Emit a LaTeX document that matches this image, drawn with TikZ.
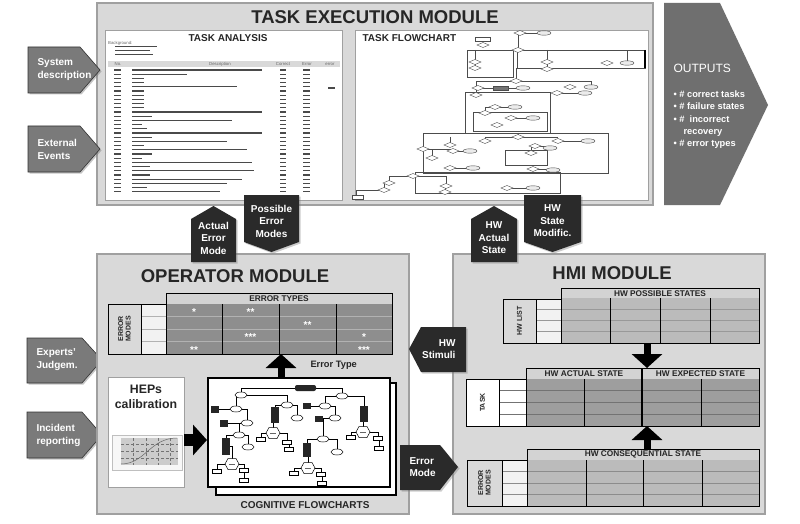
\documentclass[tikz,border=0pt]{standalone}
\usepackage{fontspec}
\setmainfont{Liberation Sans}
\usetikzlibrary{arrows.meta,shadows}
\definecolor{ModFill}{HTML}{D9D9D9}
\definecolor{ModLine}{HTML}{A0A0A0}
\definecolor{InArrow}{HTML}{7A7A7A}
\definecolor{TagDark}{HTML}{2A2A2A}
\definecolor{OutFill}{HTML}{6F6F6F}
\definecolor{CellDark}{HTML}{8E8E8E}
\definecolor{CellMid}{HTML}{9E9E9E}
\definecolor{CellLight}{HTML}{BBBBBB}
\definecolor{HeadFill}{HTML}{D3D3D3}
\definecolor{InkGray}{HTML}{4A4A4A}

\begin{document}
\begin{tikzpicture}[x=1pt,y=-1pt,
    module/.style={fill=ModFill,draw=ModLine,line width=1.2pt},
    panel/.style={fill=white,draw=ModLine,line width=0.8pt},
    modtitle/.style={font=\fontsize{18.5}{20}\selectfont\bfseries,text=black!85},
    subtitle/.style={font=\fontsize{10}{12}\selectfont\bfseries,text=black!85},
    inarrow/.style={fill=InArrow,draw=black!80,line width=0.6pt,
      drop shadow={shadow xshift=1.5pt,shadow yshift=-1.5pt,opacity=.45}},
    intext/.style={text=white,font=\fontsize{10}{13}\selectfont\bfseries,align=left,anchor=west},
    tag/.style={fill=TagDark,drop shadow={shadow xshift=1.5pt,shadow yshift=-1.5pt,opacity=.4}},
    tagtext/.style={text=white,font=\fontsize{10}{12.5}\selectfont\bfseries,align=center},
    fat/.style={line width=7pt,-{Triangle[length=14pt,width=30pt]}},
    headtext/.style={font=\fontsize{8.3}{9}\selectfont\bfseries,text=black!85,inner sep=0pt},
    vlabel/.style={rotate=90,font=\fontsize{7}{7.5}\selectfont\bfseries,align=center,text=black!85},
    star/.style={text=white,font=\fontsize{10}{10}\selectfont\bfseries,inner sep=0pt},
    ink/.style={InkGray,line width=1.2pt},
    tiny/.style={font=\fontsize{4.3}{5}\selectfont,text=black!60,inner sep=0pt},
    fc/.style={line width=0.4pt,draw=black!70},
  ]
  \useasboundingbox (0,0) rectangle (800,524);
  \fill[white] (0,0) rectangle (800,524);

  % task execution module
  \draw[module] (97,3) rectangle (653,205);
  \node[modtitle] (tetitle) at (375,17) {TASK EXECUTION MODULE};
  \draw[panel] (105,30) rectangle (342,200);
  \draw[panel] (355,30) rectangle (648,200);
  \node[subtitle] (tatitle) at (228,38) {TASK ANALYSIS};
  \node[subtitle,anchor=west] (tftitle) at (359,38) {TASK FLOWCHART};

  \node[tiny,anchor=west] (backgr) at (108,43) {Background:};
  \foreach \y/\len in {47/42,51/35,55/38}
    \draw[ink,line width=1pt] (115,\y) -- (115+\len,\y);
  \fill[black!15] (108,61) rectangle (340,67);
  \node[tiny] (hno) at (118,64) {No.};
  \node[tiny] (hdesc) at (220,64) {Description};
  \node[tiny] (hcorr) at (283,64) {Correct};
  \node[tiny] (herr) at (307,64) {Error};
  \node[tiny] (herr2) at (330,64) {error};
  \foreach \i/\len in {0/130,1/55,2/12,3/12,4/105,5/12,6/12,7/12,8/12,9/12,10/130,11/20,12/100,
      13/10,14/15,15/130,16/20,17/95,18/12,19/115,20/20,21/10,22/120,23/18,24/122,25/18,26/110,27/95,28/15,29/88}
  {
    \draw[ink] (114,70+4.2*\i) -- (121,70+4.2*\i);
    \draw[ink] (132,70+4.2*\i) -- (132+\len,70+4.2*\i);
    \draw[ink] (280,70+4.2*\i) -- (286,70+4.2*\i);
    \draw[ink] (303,70+4.2*\i) -- (310,70+4.2*\i);
  }
  \draw[ink] (328,88) -- (335,88);

  % task flowchart drawing
  \foreach \xa/\ya/\xb/\yb in {467/50/513/77,517/50/645/68,465/92/550/133,473/112/547/131,
      423/133/608/173,505/150/547/165,415/172/560/193}
    \draw[fc] (\xa,\ya) rectangle (\xb,\yb);
  \foreach \xa/\ya/\xb/\yb in {520/33/544/33,518/33/518/50,475/50/475/68,547/50/547/69,607/50/627/63,
      516/68/516/81,478/81/570/81,478/81/476/95,478/88/523/88,570/81/591/87,557/93/585/93,
      495/107/515/107,495/107/485/113,511/118/533/118,518/133/518/137,485/137/558/137,
      485/137/485/141,558/141/588/141,450/137/450/145,423/149/453/151,453/151/470/151,
      423/149/432/158,535/146/550/148,531/146/531/153,450/168/473/168,533/169/553/170,
      413/176/389/183,389/183/384/190,413/176/446/186,446/186/445/192,507/188/533/188,
      384/190/356/197}
    \draw[fc] (\xa,\ya) -| (\xb,\yb);
  \draw[line width=1.2pt] (645,50) -- (645,68);
  \foreach \x/\y in {520/33,483/45,518/50,475/62,475/68,547/62,547/69,607/63,516/81,478/88,476/95,
      570/87,557/93,495/107,485/113,511/118,497/125,518/137,485/141,558/141,450/145,423/149,
      432/158,453/151,535/146,531/153,450/168,533/169,413/176,389/183,384/190,446/186,445/192,507/188}
    \draw[fc,fill=white] (\x-6,\y) -- (\x,\y-2.5) -- (\x+6,\y) -- (\x,\y+2.5) -- cycle;
  \foreach \x/\y in {544/33,627/63,523/88,591/87,585/93,533/118,588/141,470/151,550/148,
      473/168,553/170,533/188,515/107}
    \draw[fc,fill=black!8] (\x,\y) ellipse (7 and 2.2);
  \draw[fc,fill=white] (475,37) rectangle (490,41);
  \draw[fc,fill=black!55] (493,86) rectangle (508,90);
  \draw[fc,fill=white] (352,195) rectangle (363,199);

  % outputs
  \fill[OutFill] (664,3) -- (720,3) -- (768,105) -- (720,205) -- (664,205) -- cycle;
  \node[anchor=west,text=white,font=\fontsize{12}{14}\selectfont] (outhead) at (670,68) {OUTPUTS};
  \node[anchor=north west,text=white,font=\fontsize{9.3}{12.4}\selectfont\bfseries,align=left]
    (outlist) at (670,87) {• \# correct tasks\\• \# failure states\\• \#\ \ incorrect\\\hspace{10pt}recovery\\• \# error types};

  % inputs
  \draw[inarrow] (28,47) -- (80,47) -- (100,70) -- (80,93) -- (28,93) -- cycle;
  \node[intext] (sysdesc) at (34,70) {System\\description};
  \draw[inarrow] (28,126) -- (80,126) -- (100,149) -- (80,172) -- (28,172) -- cycle;
  \node[intext] (extev) at (34,149) {External\\Events};
  \draw[inarrow] (27,338) -- (82,338) -- (102,360) -- (82,383) -- (27,383) -- cycle;
  \node[intext] (experts) at (33,360) {Experts'\\Judgem.};
  \draw[inarrow] (27,412) -- (82,412) -- (102,435) -- (82,458) -- (27,458) -- cycle;
  \node[intext] (incident) at (33,435) {Incident\\reporting};

  % operator module
  \draw[module] (97,254) rectangle (409,514);
  \node[modtitle] (optitle) at (235,276) {OPERATOR MODULE};
  \fill[HeadFill] (166,293) rectangle (392,304);
  \node[headtext] (errtypes) at (279,298.5) {ERROR TYPES};
  \fill[black!5] (141,304) rectangle (166,354);
  \fill[CellDark] (166,304) rectangle (392,354);
  \foreach \y in {316.5,329,341.5}
    \draw[black!30,line width=1pt] (141,\y) -- (392,\y);
  \foreach \x in {222,279,336}
    \draw[line width=0.9pt] (\x,304) -- (\x,354);
  \draw[line width=0.9pt] (166,293) rectangle (392,354) (108,304) rectangle (166,354) (141,304) -- (141,354);
  \node[vlabel] (errmodes) at (124.5,329) {ERROR\\MODES};
  \foreach \x/\y/\s in {194/310/*,250.5/310/**,307.5/322.5/**,250.5/335/***,364/335/*,194/347.5/**,364/347.5/***}
    \node[star] at (\x,\y+2.2) {\s};
  \coordinate (errbot) at (281,354);

  \node[panel,minimum width=76pt,minimum height=110pt,anchor=north west,inner sep=0pt] (hepsbox) at (108,377) {};
  \node[font=\fontsize{12.3}{15}\selectfont\bfseries,text=black!85,align=center] (heps) at (146,397) {HEPs\\calibration};
  \draw[black!25,fill=black!3] (112,435) rectangle (182,470);
  \fill[black!20] (121,438) rectangle (178,465);
  \foreach \x in {133,146,158,170}
    \draw[black!55,densely dashed,line width=0.3pt] (\x,438) -- (\x,465);
  \foreach \y in {444,451,458}
    \draw[black!55,densely dashed,line width=0.3pt] (121,\y) -- (178,\y);
  \draw[black!60,line width=0.5pt] (121,464) .. controls (145,464) and (150,438) .. (177,438);

  \draw[line width=2pt,fill=white] (216,383) rectangle (396,495);
  \node[draw,line width=2pt,fill=white,minimum width=182pt,minimum height=109pt,inner sep=0pt] (cogfront) at (299,432.5) {};
  \node[subtitle] (coglabel) at (305,505) {COGNITIVE FLOWCHARTS};
  \foreach \xa/\ya/\xb/\yb in {305/388/241/395,305/388/342/396,241/395/236/409,241/395/287/405,
      236/409/215/409,236/409/247/423,247/423/224/423,247/423/239/435,239/435/226/446,239/435/248/447,
      226/446/232/464,232/464/217/471,232/464/244/470,244/470/244/480,287/405/275/415,287/405/297/418,
      275/415/273/433,273/433/261/439,273/433/287/442,287/442/289/449,342/396/325/406,342/396/364/414,
      325/406/307/406,325/406/335/418,335/418/319/419,335/418/323/439,323/439/307/450,323/439/337/452,
      307/450/308/468,308/468/294/473,308/468/321/474,321/474/322/483,364/414/363/432,
      363/432/351/437,363/432/378/438,378/438/379/448}
    \draw[line width=0.6pt] (\xa,\ya) -| (\xb,\yb);
  \fill[black!85,rounded corners=2pt] (295,385) rectangle (316,391);
  \foreach \x/\y in {241/395,342/396,236/409,287/405,325/406,247/423,335/418,239/435,323/439,
      248/447,297/418,337/452}
    \draw[line width=0.5pt,fill=white] (\x,\y) ellipse (6 and 3);
  \foreach \x/\y/\h in {215/409/3.5,224/423/3.5,226/446/8.5,275/415/8,307/406/3,319/419/3,364/414/8,307/450/7}
    \fill[black!85] (\x-4,\y-\h) rectangle (\x+4,\y+\h);
  \foreach \x/\y in {232/464,273/433,308/468,363/432}
  {
    \draw[line width=0.5pt,fill=white] (\x-7,\y) -- (\x-4,\y-5.5) -- (\x+4,\y-5.5) -- (\x+7,\y)
      -- (\x+4,\y+5.5) -- (\x-4,\y+5.5) -- cycle;
    \draw[black!60,line width=0.8pt] (\x-3,\y) -- (\x+3,\y);
  }
  \foreach \x/\y in {217/471,244/470,244/480,261/439,287/442,289/449,294/473,321/474,322/483,
      351/437,378/438,379/448}
    \draw[line width=0.5pt,fill=white] (\x-4.5,\y-2) rectangle (\x+4.5,\y+2);

  \coordinate (hepsarr) at (184,440);
  \draw[line width=12pt,-{Triangle[length=14pt,width=30pt]}] (hepsarr) -- (hepsarr -| cogfront.west);
  \draw[fat] (errbot |- cogfront.north) -- (errbot);
  \node[font=\fontsize{9.3}{11}\selectfont\bfseries,text=black!85,anchor=west] (errtype) at (307,365) {Error Type};

  % hmi module
  \draw[module] (453,254) rectangle (765,514);
  \node[modtitle] (hmititle) at (612,273) {HMI MODULE};

  \fill[HeadFill] (561,288) rectangle (759,298);
  \node[headtext] (possstates) at (660,293.3) {HW POSSIBLE STATES};
  \fill[black!5] (536,299) rectangle (561,343);
  \fill[CellLight] (561,298) rectangle (759,343);
  \foreach \y in {309.25,320.5,331.75}
    \draw[black!40,line width=0.8pt] (536,\y) -- (759,\y);
  \foreach \x in {610,660,710}
    \draw[line width=0.7pt] (\x,298) -- (\x,343);
  \draw[line width=0.9pt] (561,288) rectangle (759,343) (503,299) rectangle (561,343) (536,299) -- (536,343);
  \node[vlabel] (hwlist) at (519.5,321) {HW LIST};
  \coordinate (possbot) at (647,343);

  \fill[HeadFill] (526,368) rectangle (759,379);
  \node[headtext] (actstate) at (584,373.8) {HW ACTUAL STATE};
  \node[headtext] (expstate) at (700.5,373.8) {HW EXPECTED STATE};
  \fill[white] (466,379) rectangle (526,426);
  \fill[CellMid] (526,379) rectangle (759,426);
  \foreach \y in {390.75,402.5,414.25}
    \draw[black!55,line width=0.8pt] (499,\y) -- (759,\y);
  \foreach \x in {584,701}
    \draw[line width=0.7pt] (\x,379) -- (\x,426);
  \draw[line width=1.2pt] (642,368) -- (642,426);
  \draw[line width=0.9pt] (526,368) rectangle (759,426) (466,379) rectangle (526,426) (499,379) -- (499,426);
  \node[vlabel] (tasklbl) at (482.5,402.5) {TASK};
  \coordinate (acttop) at (647,368);
  \coordinate (actbot) at (647,426);

  \fill[HeadFill] (527,449) rectangle (759,460);
  \node[headtext] (consstate) at (643,454.8) {HW CONSEQUENTIAL STATE};
  \fill[black!5] (502,460) rectangle (527,506);
  \fill[CellLight] (527,460) rectangle (759,506);
  \foreach \y in {471.5,483,494.5}
    \draw[black!45,line width=0.8pt] (502,\y) -- (759,\y);
  \foreach \x in {586,643,702}
    \draw[line width=0.7pt] (\x,460) -- (\x,506);
  \draw[line width=0.9pt] (527,449) rectangle (759,506) (467,460) rectangle (527,506) (502,460) -- (502,506);
  \node[vlabel] (hwerrmodes) at (484.5,483) {ERROR\\MODES};
  \coordinate (constop) at (647,449);

  \draw[fat] (possbot) -- (acttop);
  \draw[fat] (constop) -- (actbot);

  % links between modules
  \fill[tag] (191,219) -- (213.5,206) -- (236,219) -- (236,262) -- (191,262) -- cycle;
  \node[tagtext] (acterr) at (213.5,238) {Actual\\Error\\Mode};
  \fill[tag] (244,195) -- (299,195) -- (299,242) -- (271.5,252) -- (244,242) -- cycle;
  \node[tagtext] (poserr) at (271.5,221) {Possible\\Error\\Modes};
  \fill[tag] (471,219) -- (494,206) -- (517,219) -- (517,262) -- (471,262) -- cycle;
  \node[tagtext] (hwact) at (494,238) {HW\\Actual\\State};
  \fill[tag] (524,195) -- (581,195) -- (581,242) -- (552.5,252) -- (524,242) -- cycle;
  \node[tagtext] (hwmod) at (552.5,221) {HW\\State\\Modific.};
  \fill[tag] (409,349) -- (421,327) -- (466,327) -- (466,372) -- (421,372) -- cycle;
  \node[tagtext,align=right,anchor=east] (hwstim) at (459,349) {HW\\Stimuli};
  \fill[tag] (400,445) -- (440,445) -- (458,467) -- (440,490) -- (400,490) -- cycle;
  \node[tagtext,align=left,anchor=west] (errmode) at (406,467) {Error\\Mode};
\end{tikzpicture}
\end{document}
